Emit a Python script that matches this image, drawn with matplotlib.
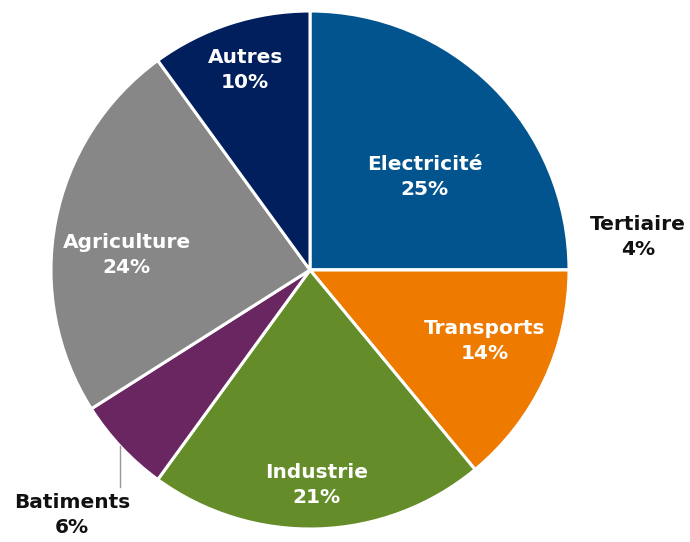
import numpy as np
import matplotlib.pyplot as plt

# parts des emissions par secteur
secteurs = ["Electricité", "Tertiaire", "Transports", "Industrie", "Batiments", "Agriculture", "Autres"]
parts = [25, 0, 14, 21, 6, 24, 10]          # taille des parts dessinees
etiquettes = ["25%", "4%", "14%", "21%", "6%", "24%", "10%"]
couleurs = ["#02548f", "#ffffff", "#ee7a00", "#648c28", "#6a2660", "#878787", "#001f5c"]

S = 259.0  # pixels par rayon
fig = plt.figure(figsize=(6.9, 5.42), dpi=100)
ax = fig.add_axes([0, 0, 1, 1])

wedges, _ = ax.pie(parts, colors=couleurs, startangle=90, counterclock=False,
                   radius=1, wedgeprops=dict(edgecolor="white", linewidth=2.2))
ax.set_xlim(-310 / S, 380 / S)
ax.set_ylim(-272 / S, 270 / S)
ax.set_aspect("equal")
ax.axis("off")

# distance des etiquettes internes (fraction du rayon)
dist = {"Electricité": 0.57, "Transports": 0.73, "Industrie": 0.83,
        "Agriculture": 0.71, "Autres": 0.81}
decal = {"Electricité": -6, "Transports": 3, "Industrie": 0,
         "Agriculture": 6, "Autres": 0}

fs = 14.5
ls = 1.4
for w, nom, lab in zip(wedges, secteurs, etiquettes):
    if nom not in dist:
        continue
    ang = np.deg2rad((w.theta1 + w.theta2) / 2 + decal[nom])
    r = dist[nom]
    ax.text(r * np.cos(ang), r * np.sin(ang), nom + "\n" + lab, ha="center", va="center",
            color="white", fontsize=fs, fontweight="bold", linespacing=ls)

# etiquettes exterieures
ax.text(328 / S, 33 / S, "Tertiaire\n4%", ha="center", va="center", color="#111111",
        fontsize=fs, fontweight="bold", linespacing=ls)
ax.text(-238 / S, -245 / S, "Batiments\n6%", ha="center", va="center", color="#111111",
        fontsize=fs, fontweight="bold", linespacing=ls)
xl = -190 / S
ax.plot([xl, xl], [-np.sqrt(1 - xl ** 2), -217 / S], color="#999999", lw=1)

fig.savefig("out.png", dpi=100)
